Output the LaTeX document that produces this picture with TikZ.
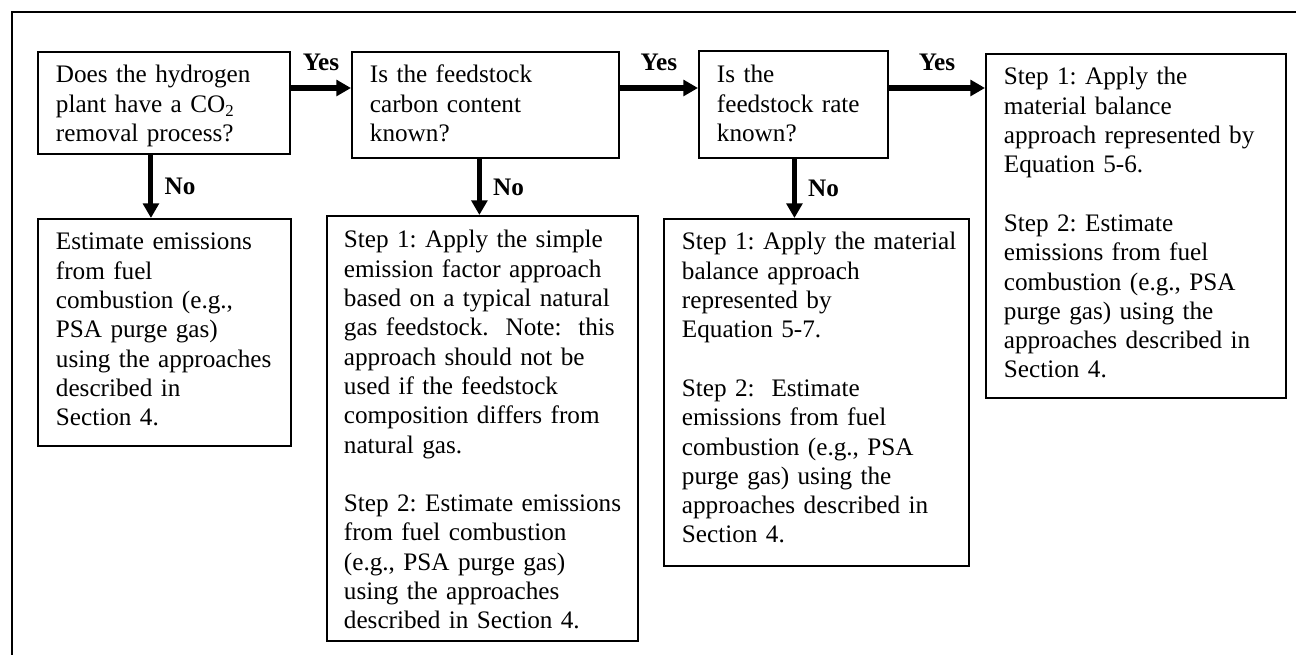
\documentclass[tikz,border=0pt]{standalone}
\usepackage{fontspec}
\setmainfont{Liberation Serif}
\usetikzlibrary{arrows.meta,calc}
\frenchspacing
\begin{document}
\begin{tikzpicture}[x=0.4762pt,y=-0.4762pt,
  every node/.style={font=\fontsize{12}{13.95}\selectfont},
  frame/.style={line width=1pt},
  box/.style={draw, line width=0.9pt, inner sep=0pt, anchor=north west},
  txt/.style={anchor=base west, inner sep=0pt, align=left, text width=160pt},
  arr/.style={line width=2.4pt, -{Triangle[length=7pt,width=7.5pt]}},
  lbl/.style={font=\fontsize{12}{13.95}\selectfont\bfseries}]
\useasboundingbox (0,0) rectangle (1296,655);
\clip (0,0) rectangle (1296,655);

% outer frame, running off the page at right and bottom
\draw[frame] (12,720) -- (12,12) -- (1400,12);

% question boxes
\node[box, minimum width=120pt,   minimum height=48.6pt] (q1) at (37,51) {};
\node[box, minimum width=127.1pt, minimum height=50.5pt] (q2) at (351,51) {};
\node[box, minimum width=90pt,    minimum height=51pt]   (q3) at (698,50) {};
% outcome boxes
\node[box, minimum width=142.9pt, minimum height=163.8pt] (r4) at (985,53) {};
\node[box, minimum width=120.5pt, minimum height=108.1pt] (a1) at (37,218) {};
\node[box, minimum width=148.1pt, minimum height=202.4pt] (a2) at (326,215) {};
\node[box, minimum width=145.2pt, minimum height=165.2pt] (a3) at (663,218) {};

% box texts
\node[txt] (q1t) at ($(q1.north west)+(18.5,32)$)
  {Does the hydrogen\\plant have a CO\textsubscript{2}\\removal process?};
\node[txt] (q2t) at ($(q2.north west)+(18.5,32)$)
  {Is the feedstock\\carbon content\\known?};
\node[txt] (q3t) at ($(q3.north west)+(18.5,33)$)
  {Is the\\feedstock rate\\known?};
\node[txt] (r4t) at ($(r4.north west)+(18.5,32)$)
  {Step 1: Apply the\\material balance\\approach represented by\\Equation 5-6.\\[13.95pt]
   Step 2: Estimate\\emissions from fuel\\combustion (e.g., PSA\\purge gas) using the\\approaches described in\\Section 4.};
\node[txt] (a1t) at ($(a1.north west)+(18.5,32)$)
  {Estimate emissions\\from fuel\\combustion (e.g.,\\PSA purge gas)\\using the approaches\\described in\\Section 4.};
\node[txt] (a2t) at ($(a2.north west)+(17.5,33)$)
  {Step 1: Apply the simple\\emission factor approach\\based on a typical natural\\gas feedstock.\ \ Note:\ \ this\\approach should not be\\used if the feedstock\\composition differs from\\natural gas.\\[13.95pt]
   Step 2: Estimate emissions\\from fuel combustion\\(e.g., PSA purge gas)\\using the approaches\\described in Section 4.};
\node[txt] (a3t) at ($(a3.north west)+(18.5,32)$)
  {Step 1: Apply the material\\balance approach\\represented by\\Equation 5-7.\\[13.95pt]
   Step 2:\ \ Estimate\\emissions from fuel\\combustion (e.g., PSA\\purge gas) using the\\approaches described in\\Section 4.};

% "Yes" connectors
\draw[arr] ($(q1.north east)+(0,37)$) coordinate (y1) -- (y1 -| q2.west)
  node[lbl, midway, above=3.5pt] {Yes};
\draw[arr] ($(q2.north east)+(0,37)$) coordinate (y2) -- (y2 -| q3.west)
  node[lbl, midway, above=3.5pt] {Yes};
\draw[arr] ($(q3.north east)+(0,38)$) coordinate (y3) -- (y3 -| r4.west)
  node[lbl, midway, above=3.5pt] {Yes};

% "No" connectors
\draw[arr] ($(q1.south)+(-13,0)$) coordinate (n1) -- (n1 |- a1.north)
  node[lbl, midway, right=2pt] {No};
\draw[arr] ($(q2.south)+(-6,0)$) coordinate (n2) -- (n2 |- a2.north)
  node[lbl, midway, right=2pt] {No};
\draw[arr] ($(q3.south)+(1,0)$) coordinate (n3) -- (n3 |- a3.north)
  node[lbl, midway, right=2pt] {No};
\end{tikzpicture}
\end{document}
